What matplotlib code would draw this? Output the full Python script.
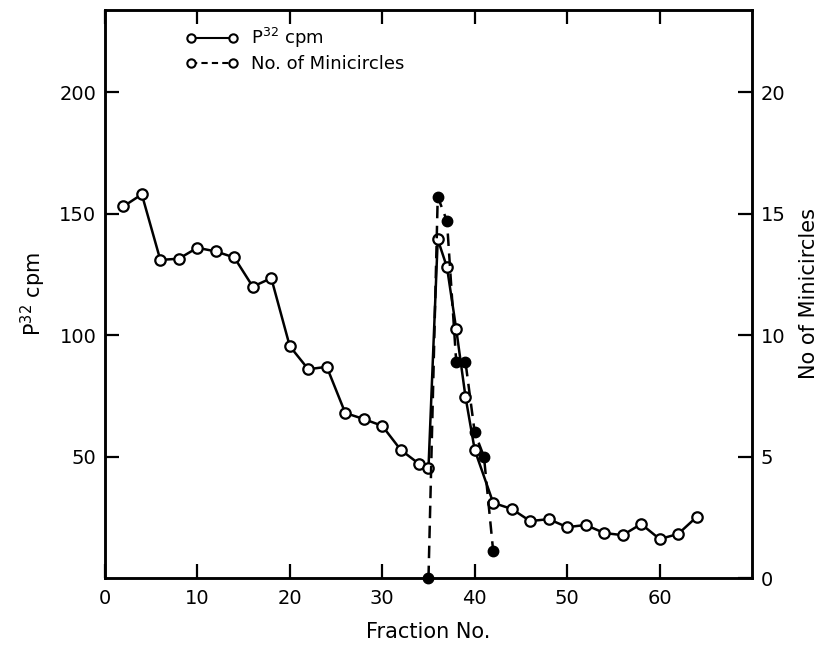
import matplotlib
matplotlib.use("Agg")
import matplotlib.pyplot as plt
from matplotlib.lines import Line2D

# P32 counts per fraction (left axis)
p32_fraction = [2, 4, 6, 8, 10, 12, 14, 16, 18, 20, 22, 24, 26, 28, 30, 32, 34, 35,
                36, 37, 38, 39, 40, 42, 44, 46, 48, 50, 52, 54, 56, 58, 60, 62, 64]
p32_cpm = [153, 158, 131, 131.5, 136, 134.5, 132, 120, 123.5, 95.5, 86, 87, 68, 65.5,
           62.7, 52.8, 47, 45.4, 139.5, 128, 102.5, 74.7, 52.8, 31, 28.5, 23.5, 24.3,
           21, 21.9, 18.6, 17.7, 22.3, 16.1, 18.2, 25.2]

# number of minicircles (right axis)
mini_fraction = [35, 36, 37, 38, 39, 40, 41, 42]
mini_count = [0, 15.7, 14.7, 8.9, 8.9, 6.0, 5.0, 1.1]

x_ticks = [0, 10, 20, 30, 40, 50, 60]
left_ticks = [50, 100, 150, 200]
right_ticks = [0, 5, 10, 15, 20]

plt.rcParams["font.family"] = "DejaVu Sans"

fig = plt.figure(figsize=(8.32, 6.46), dpi=100)
ax = fig.add_axes([0.126, 0.105, 0.778, 0.88])
ax2 = ax.twinx()

# solid line with open circles
ax.plot(p32_fraction, p32_cpm, color="black", linewidth=1.8, marker="o",
        markersize=7.5, markerfacecolor="white", markeredgewidth=1.6,
        markeredgecolor="black", zorder=3)

# dashed line with filled circles
ax2.plot(mini_fraction, mini_count, color="black", linewidth=1.8, linestyle=(0, (5, 3)),
         marker="o", markersize=7.5, markerfacecolor="black", markeredgecolor="black",
         zorder=4, clip_on=False)

ax.set_xlim(0, 70)
ax.set_ylim(0, 234)
ax2.set_ylim(0, 23.4)

ax.set_xticks(x_ticks)
ax.set_yticks(left_ticks)
ax2.set_yticks(right_ticks)

ax.tick_params(axis="both", direction="in", length=10, width=1.6, labelsize=14,
               top=True, pad=6)
ax.tick_params(axis="x", pad=8)
ax2.tick_params(axis="y", direction="in", length=10, width=1.6, labelsize=14, pad=6)

for a in (ax, ax2):
    for s in a.spines.values():
        s.set_linewidth(1.8)

ax.set_xlabel("Fraction No.", fontsize=15, labelpad=10)
ax.set_ylabel("P$^{32}$ cpm", fontsize=15, labelpad=8)
ax2.set_ylabel("No of Minicircles", fontsize=15, labelpad=10)

# legend uses open circles for both entries
handles = [
    Line2D([], [], color="black", linewidth=1.5, marker="o", markersize=6,
           markerfacecolor="white", markeredgewidth=1.5),
    Line2D([], [], color="black", linewidth=1.5, linestyle=(0, (3, 2)), marker="o",
           markersize=6, markerfacecolor="white", markeredgewidth=1.5),
]
ax.legend(handles, ["P$^{32}$ cpm", "No. of Minicircles"], loc="upper left",
          bbox_to_anchor=(0.1, 1.0), frameon=False, fontsize=13, numpoints=2,
          handlelength=2.9, handletextpad=0.7, labelspacing=0.3)

fig.savefig("out.png", dpi=100)
